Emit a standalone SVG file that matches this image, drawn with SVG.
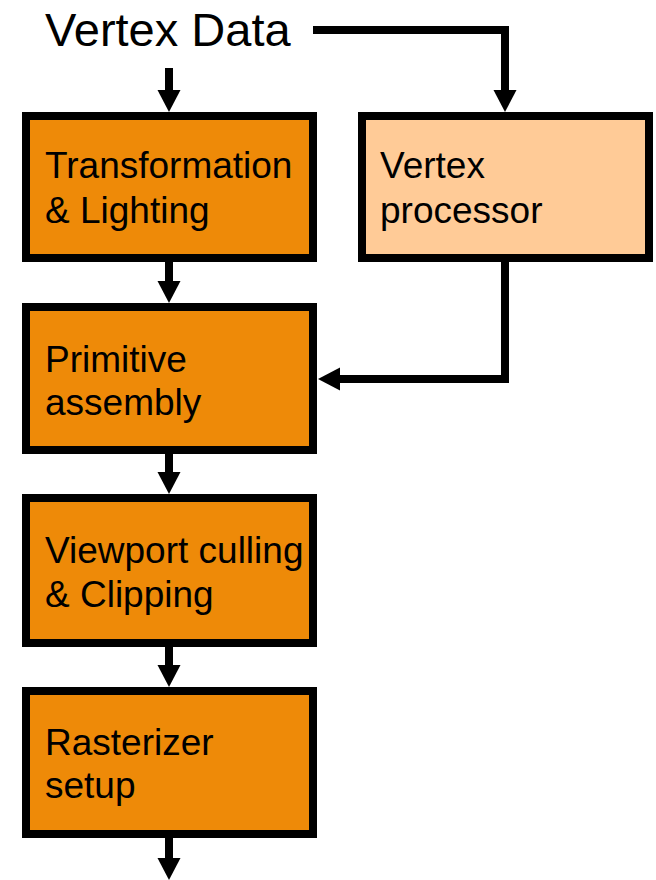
<svg xmlns="http://www.w3.org/2000/svg" width="656" height="880" viewBox="0 0 656 880">
  <style>
    .box { stroke: #000; stroke-width: 8; }
    .stage { fill: #EE8A08; }
    .prog { fill: #FFCB97; }
    .label { font-family: "Liberation Sans", Arial, sans-serif; font-size: 37px; fill: #000; }
    .title { font-family: "Liberation Sans", Arial, sans-serif; font-size: 47px; fill: #000; }
    .wire { fill: none; stroke: #000; stroke-width: 8; stroke-linejoin: miter; marker-end: url(#head); }
  </style>
  <defs>
    <marker id="head" markerUnits="userSpaceOnUse" markerWidth="24" markerHeight="24" refX="1" refY="11.5" orient="auto">
      <path d="M0,0 L22,11.5 L0,23 Z" fill="#000"/>
    </marker>
  </defs>

  <rect width="656" height="880" fill="#fff"/>

  <g id="vertex-data">
    <text class="title" x="45" y="46">Vertex Data</text>
  </g>

  <g id="transform-lighting">
    <rect class="box stage" x="26" y="116" width="287" height="142"/>
    <text class="label" x="45" y="178">Transformation</text>
    <text class="label" x="45" y="223">&amp; Lighting</text>
  </g>

  <g id="vertex-processor">
    <rect class="box prog" x="362" y="116" width="287" height="142"/>
    <text class="label" x="380" y="178">Vertex</text>
    <text class="label" x="380" y="223">processor</text>
  </g>

  <g id="primitive-assembly">
    <rect class="box stage" x="26" y="307" width="287" height="143"/>
    <text class="label" x="45" y="372">Primitive</text>
    <text class="label" x="45" y="415">assembly</text>
  </g>

  <g id="viewport-clipping">
    <rect class="box stage" x="26" y="498" width="287" height="145"/>
    <text class="label" x="45" y="563">Viewport culling</text>
    <text class="label" x="45" y="607">&amp; Clipping</text>
  </g>

  <g id="rasterizer-setup">
    <rect class="box stage" x="26" y="691" width="287" height="143"/>
    <text class="label" x="45" y="755">Rasterizer</text>
    <text class="label" x="45" y="798">setup</text>
  </g>

  <g id="connectors">
    <path class="wire" d="M169,68 V91"/>
    <path class="wire" d="M313,30 H505 V91"/>
    <path class="wire" d="M169,262 V282"/>
    <path class="wire" d="M505,262 V379 H339"/>
    <path class="wire" d="M169,454 V473"/>
    <path class="wire" d="M169,647 V666"/>
    <path class="wire" d="M169,838 V859"/>
  </g>
</svg>
